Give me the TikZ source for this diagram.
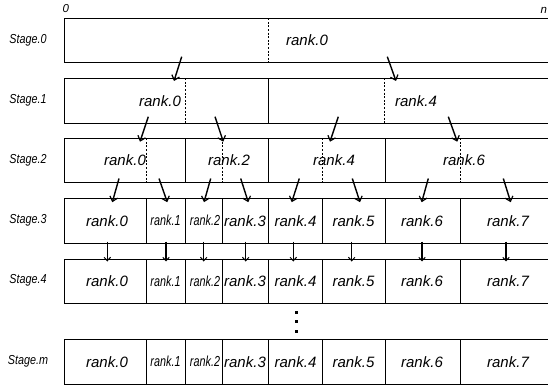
\documentclass[tikz,border=0pt]{standalone}
\usepackage{fontspec}
\usepackage{graphicx}
\setmainfont{Liberation Sans}
\usetikzlibrary{arrows.meta}
\newcommand\hsq[2]{\scalebox{#1}[1]{#2}}
\begin{document}
\begin{tikzpicture}[x=1pt,y=-1pt,
  box/.style={draw=black,line width=0.9pt},
  solidsep/.style={draw=black,line width=0.9pt},
  dashsep/.style={draw=black,line width=0.6pt,dash pattern=on 2pt off 1.6pt},
  biglbl/.style={inner sep=0pt,font=\fontsize{15}{17}\selectfont\itshape},
  smalllbl/.style={inner sep=0pt,font=\fontsize{14.5}{16}\selectfont\itshape},
  stagelbl/.style={inner sep=0pt,font=\fontsize{13}{15}\selectfont\itshape},
  toplbl/.style={inner sep=0pt,anchor=base west,font=\fontsize{11.5}{13}\selectfont\itshape},
  darr/.style={line width=1.4pt,-{Straight Barb[length=4.5pt,width=8pt,line width=1.2pt]}},
  varr/.style={line width=1.1pt,-{Straight Barb[length=3.5pt,width=6.5pt,line width=1pt]}},
  dotmark/.style={fill=black}]
\useasboundingbox (0,0) rectangle (548,387);
\clip (0,0) rectangle (548,387);
\fill[white] (0,0) rectangle (548,387);

% row boxes
\draw[box] (64,18.3) rectangle (560,62.5);
\draw[box] (64,78.3) rectangle (560,123.3);
\draw[box] (64,138.3) rectangle (560,182.7);
\draw[box] (64,198.3) rectangle (560,243.3);
\draw[box] (64,259) rectangle (560,303.3);
\draw[box] (64,339.3) rectangle (560,384.3);

% row 0 separators
\draw[dashsep] (268.3,18.3) -- (268.3,62.5);
% row 1 separators
\draw[solidsep] (268.3,78.3) -- (268.3,123.3);
\foreach \x in {185.7,384.3} \draw[dashsep] (\x,78.3) -- (\x,123.3);
% row 2 separators
\foreach \x in {185.7,268.3,385} \draw[solidsep] (\x,138.3) -- (\x,182.7);
\foreach \x in {146.3,222.7,322.3,460} \draw[dashsep] (\x,138.3) -- (\x,182.7);
% rows 3, 4, m separators
\foreach \t/\b in {198.3/243.3,259/303.3,339.3/384.3}
  \foreach \x in {146.7,185.7,222.7,268.3,322.3,385,460.3}
    \draw[solidsep] (\x,\t) -- (\x,\b);

% top labels
\node[toplbl] (zero) at (62.5,13) {0};
\node[toplbl] (enn) at (540.5,14) {n};

% stage labels
\node[stagelbl] (st0) at (28,40.4) {\hsq{0.83}{Stage.0}};
\node[stagelbl] (st1) at (28,100.8) {\hsq{0.83}{Stage.1}};
\node[stagelbl] (st2) at (28,160.5) {\hsq{0.83}{Stage.2}};
\node[stagelbl] (st3) at (28,220.8) {\hsq{0.83}{Stage.3}};
\node[stagelbl] (st4) at (28,280.5) {\hsq{0.83}{Stage.4}};
\node[stagelbl] (stm) at (28,361.8) {\hsq{0.83}{Stage.m}};

% rank labels
\node[biglbl] (r00) at (307,40.4) {rank.0};
\node[biglbl] (r10) at (160,100.8) {rank.0};
\node[biglbl] (r14) at (416,100.8) {rank.4};
\node[biglbl] (r20) at (125,160.5) {rank.0};
\node[biglbl] (r22) at (229,160.5) {rank.2};
\node[biglbl] (r24) at (334,160.5) {rank.4};
\node[biglbl] (r26) at (464,160.5) {rank.6};
\foreach \r/\y in {3/220.8,4/281.2,m/361.8}{
  \node[biglbl] (r\r0) at (107,\y) {rank.0};
  \node[smalllbl] (r\r1) at (165.5,\y) {\hsq{0.745}{rank.1}};
  \node[smalllbl] (r\r2) at (205,\y) {\hsq{0.745}{rank.2}};
  \node[biglbl] (r\r3) at (245,\y) {rank.3};
  \node[biglbl] (r\r4) at (295.5,\y) {rank.4};
  \node[biglbl] (r\r5) at (353.5,\y) {rank.5};
  \node[biglbl] (r\r6) at (422,\y) {rank.6};
  \node[biglbl] (r\r7) at (508,\y) {rank.7};
}

% arrows stage 0 -> 1
\foreach \sx/\ex [count=\i] in {181.7/174,387.3/396}{
  \coordinate (a\i s) at (\sx,56.7);
  \coordinate (a\i e) at (\ex,81);
  \draw[darr] (a\i s) -- (a\i e);
}
% arrows stage 1 -> 2
\foreach \sx/\ex [count=\i] in {148.3/140,215/223.3,338.3/330,448.3/457.3}{
  \coordinate (b\i s) at (\sx,116.7);
  \coordinate (b\i e) at (\ex,141.7);
  \draw[darr] (b\i s) -- (b\i e);
}
% arrows stage 2 -> 3
\foreach \sx/\ex [count=\i] in {119/112.3,159/167.3,210.7/204,240.7/248.3,299.3/291.7,352.3/360,428.3/421.7,503.3/510.7}{
  \coordinate (c\i s) at (\sx,178.5);
  \coordinate (c\i e) at (\ex,202.2);
  \draw[darr] (c\i s) -- (c\i e);
}
% arrows stage 3 -> 4
\foreach \x [count=\i] in {107.3,166,203.7,245.7,293.3,351.7,422,506}{
  \coordinate (d\i s) at (\x,241.7);
  \coordinate (d\i e) at (\x,261.5);
  \draw[varr] (d\i s) -- (d\i e);
}

% vertical ellipsis
\foreach \y in {311,320.3,330.2}
  \fill[dotmark] (294.8,\y) rectangle (298.3,\y+2.6);
\end{tikzpicture}
\end{document}
